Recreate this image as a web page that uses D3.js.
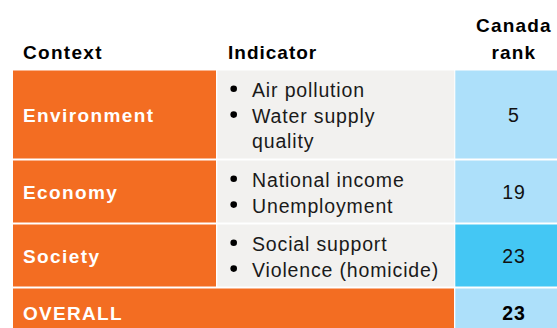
<!DOCTYPE html>
<html><head><meta charset="utf-8">
<script src="https://cdn.jsdelivr.net/npm/d3@7"></script>
<style>body{margin:0;background:#fff;overflow:hidden} svg{display:block}</style>
</head><body>
<script>
// ---- data ----
const headerLines = [["Context"], ["Indicator"], ["Canada", "rank"]];
const contexts = ["Environment", "Economy", "Society"];
const indicators = [
  [["Air pollution"], ["Water supply", "quality"]],
  [["National income"], ["Unemployment"]],
  [["Social support"], ["Violence (homicide)"]]
];
const ranks = [5, 19, 23];
const rankHighlight = [false, false, true];
const overallLabel = "OVERALL";
const overallRank = 23;

// ---- layout ----
const W = 557, H = 328;
const C = { orange: "#F36D22", gray: "#F2F1EF", blueLight: "#ADE0FA", blueBright: "#44C7F4" };
const colX = d3.scaleOrdinal().domain(["ctx", "ind", "rank"]).range([13, 217.3, 455.3]);
const colW = { ctx: 203, ind: 237, rank: 116 };
const tableTop = 70.5, lineH = 26, pad = 10, gap = 2;
const FONT = "'Liberation Sans', Arial, sans-serif";

const svg = d3.select("body").append("svg").attr("width", W).attr("height", H)
  .style("font-family", FONT);

// header
svg.append("text").attr("x", 23).attr("y", 59).text(headerLines[0][0])
  .attr("font-weight", "bold").attr("font-size", 19).attr("letter-spacing", 1.3).attr("fill", "#000");
svg.append("text").attr("x", 228).attr("y", 59).text(headerLines[1][0])
  .attr("font-weight", "bold").attr("font-size", 19).attr("letter-spacing", 1.0).attr("fill", "#000");
svg.append("g").selectAll("text").data(headerLines[2]).join("text")
  .attr("x", colX("rank") + colW.rank / 2 + 0.6).attr("y", (d, i) => 32 + i * 27)
  .attr("text-anchor", "middle").attr("font-weight", "bold").attr("font-size", 19)
  .attr("letter-spacing", 1.2).attr("fill", "#000").text(d => d);

// rows
const rows = contexts.map((c, i) => ({
  ctx: c, ind: indicators[i], rank: ranks[i], hl: rankHighlight[i],
  lines: d3.sum(indicators[i], b => b.length)
}));
let yCur = tableTop;
rows.forEach(r => { r.y = yCur; r.h = r.lines * lineH + pad; yCur += r.h + gap; });
const overallY = yCur, overallH = 48;

const g = svg.append("g");
const rowG = g.selectAll("g.row").data(rows).join("g").attr("class", "row")
  .attr("transform", d => `translate(0,${d.y})`);

rowG.append("rect").attr("x", colX("ctx")).attr("width", colW.ctx).attr("height", d => d.h).attr("fill", C.orange);
rowG.append("rect").attr("x", colX("ind")).attr("width", colW.ind).attr("height", d => d.h).attr("fill", C.gray);
rowG.append("rect").attr("x", colX("rank")).attr("width", colW.rank).attr("height", d => d.h)
  .attr("fill", d => d.hl ? C.blueBright : C.blueLight);

rowG.append("text").attr("x", 23).attr("y", d => d.h / 2 + 7)
  .attr("fill", "#fff").attr("font-weight", "bold").attr("font-size", 19).attr("letter-spacing", 1.4)
  .text(d => d.ctx);

rowG.append("text").attr("x", colX("rank") + colW.rank / 2 + 0.6).attr("y", d => d.h / 2 + 7)
  .attr("text-anchor", "middle").attr("fill", "#111").attr("font-size", 19.5).attr("letter-spacing", 0.8)
  .text(d => d.rank);

rowG.each(function (d) {
  const sel = d3.select(this);
  let li = 0;
  d.ind.forEach(bullet => {
    const base = 26.3 + li * 25.8;
    sel.append("circle").attr("cx", 233.7).attr("cy", base - 8).attr("r", 3.3).attr("fill", "#000");
    bullet.forEach(line => {
      sel.append("text").attr("x", 252).attr("y", 26.3 + li * 25.8)
        .attr("fill", "#1a1a1a").attr("font-size", 19.5).attr("letter-spacing", 0.85).text(line);
      li++;
    });
  });
});

// overall row
const og = g.append("g").attr("transform", `translate(0,${overallY})`);
og.append("rect").attr("x", colX("ctx")).attr("width", colX("rank") - 1.3 - colX("ctx")).attr("height", overallH).attr("fill", C.orange);
og.append("rect").attr("x", colX("rank")).attr("width", colW.rank).attr("height", overallH).attr("fill", C.blueLight);
og.append("text").attr("x", 23).attr("y", 31).attr("fill", "#fff").attr("font-weight", "bold")
  .attr("font-size", 19).attr("letter-spacing", 1.3).text(overallLabel);
og.append("text").attr("x", colX("rank") + colW.rank / 2 + 0.6).attr("y", 31).attr("text-anchor", "middle")
  .attr("fill", "#000").attr("font-weight", "bold").attr("font-size", 19.5).attr("letter-spacing", 0.8).text(overallRank);
</script>
</body></html>
